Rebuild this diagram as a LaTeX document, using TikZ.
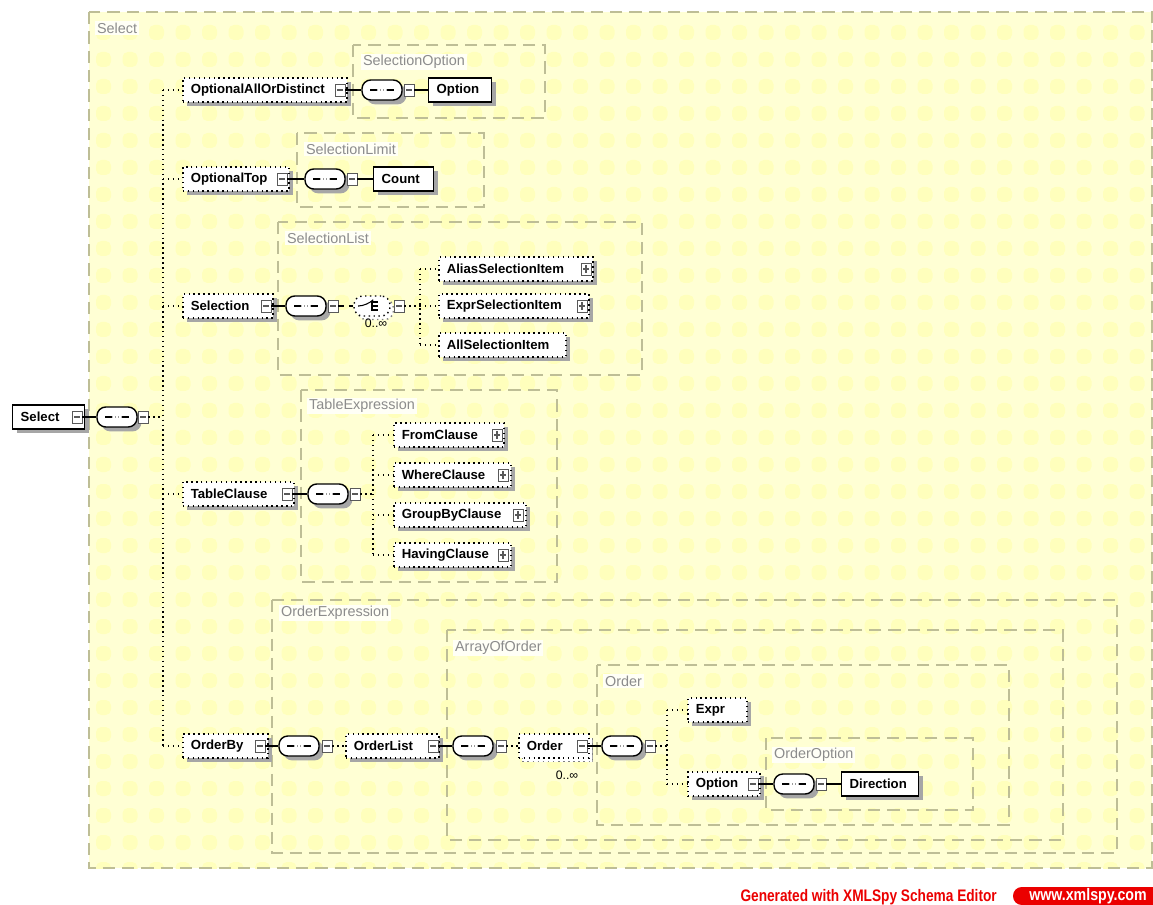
\documentclass[tikz,border=0pt]{standalone}
\usepackage{fontspec}
\setsansfont{Liberation Sans}
\usetikzlibrary{shadows}

\definecolor{paper}{RGB}{255,255,212}
\definecolor{spot}{RGB}{255,255,188}
\definecolor{frame}{RGB}{190,190,150}
\definecolor{grouptext}{RGB}{140,140,140}
\definecolor{spyred}{RGB}{235,0,0}

\newcommand{\elemfont}{\sffamily\bfseries\fontsize{7.5}{8}\selectfont}
\newcommand{\groupfont}{\sffamily\fontsize{8.2}{9}\selectfont}

\tikzset{
  dshadow/.style={drop shadow={shadow xshift=2.5pt, shadow yshift=-2.5pt, fill=black!35, opacity=1}},
  elem/.style={draw, line width=0.8pt, fill=white, anchor=west, font=\elemfont,
    minimum height=0.48cm, inner xsep=0.16cm, inner ysep=0pt, align=left, dshadow},
  optelem/.style={elem, dotted, line width=0.9pt},
  multi/.style={optelem, copy shadow={shadow xshift=2pt, shadow yshift=-2pt, fill=white, draw=black!50, dotted}},
  mbox/.style={draw=black!65, fill=white, line width=0.5pt, minimum width=0.2cm,
    minimum height=0.24cm, inner sep=0pt,
    path picture={\draw[line width=0.6pt] ([xshift=1.3pt]path picture bounding box.west)
      -- ([xshift=-1.3pt]path picture bounding box.east);}},
  pbox/.style={draw=black!65, fill=white, line width=0.5pt, minimum width=0.2cm,
    minimum height=0.24cm, inner sep=0pt,
    path picture={\draw[line width=0.6pt] ([xshift=1.3pt]path picture bounding box.west)
      -- ([xshift=-1.3pt]path picture bounding box.east);
      \draw[line width=0.6pt] ([yshift=-1.3pt]path picture bounding box.north)
      -- ([yshift=1.3pt]path picture bounding box.south);}},
  seq/.style={draw, line width=0.8pt, fill=white, rounded corners=5pt, minimum width=0.8cm,
    minimum height=0.4cm, inner sep=0pt, dshadow,
    path picture={\draw[line width=0.6pt] ([xshift=-0.24cm]path picture bounding box.center)
      -- ([xshift=0.24cm]path picture bounding box.center);
      \fill ([xshift=-0.065cm]path picture bounding box.center) circle (1.1pt);
      \fill (path picture bounding box.center) circle (1.1pt);
      \fill ([xshift=0.065cm]path picture bounding box.center) circle (1.1pt);}},
  choice/.style={draw, dotted, line width=0.8pt, fill=white, rounded corners=5pt,
    minimum width=0.72cm, minimum height=0.4cm, inner sep=0pt,
    copy shadow={shadow xshift=2pt, shadow yshift=-2pt, fill=white, draw=black!50, dotted},
    path picture={\draw[line width=0.6pt, solid] ([xshift=-0.26cm]path picture bounding box.center)
      -- ([xshift=-0.1cm]path picture bounding box.center)
      -- ([xshift=-0.02cm, yshift=0.08cm]path picture bounding box.center);
      \draw[line width=0.6pt, solid] ([xshift=0.0cm, yshift=0.1cm]path picture bounding box.center)
      -- ([xshift=0.0cm, yshift=-0.1cm]path picture bounding box.center);
      \draw[line width=0.6pt, solid] ([yshift=0.08cm]path picture bounding box.center) -- +(0.12cm,0)
      ([yshift=0cm]path picture bounding box.center) -- +(0.12cm,0)
      ([yshift=-0.08cm]path picture bounding box.center) -- +(0.12cm,0);}},
  link/.style={line width=0.6pt},
  branch/.style={dotted, line width=0.8pt},
  group/.style={draw=frame, dash pattern=on 7pt off 4pt, line width=0.8pt},
  grouplabel/.style={anchor=west, font=\groupfont, text=grouptext, fill=white!80!paper, inner sep=1pt},
  occ/.style={font=\sffamily\fontsize{7}{8}\selectfont, inner sep=0pt}
}

\begin{document}
\begin{tikzpicture}[x=0.02cm, y=-0.02cm]
\useasboundingbox (0,0) rectangle (1153,905);

% paper of the Select type
\fill[paper] (89,12) rectangle (1152,868);
\begin{scope}
\clip (89,12) rectangle (1152,868);
\foreach \i in {0,...,40}
  \foreach \j in {0,...,31}
    \fill[spot, rounded corners=3pt] (\i*26.5+96,\j*27+25) rectangle ++(15,15);
\end{scope}

% type boxes
\draw[group] (89,12) rectangle (1152,868);
\node[grouplabel] at (95,28) {Select};
\draw[group] (353,45) rectangle (545,118);
\node[grouplabel] at (361,62) {SelectionOption};
\draw[group] (297,133) rectangle (484,207);
\node[grouplabel] at (304,149) {SelectionLimit};
\draw[group] (278,222) rectangle (642,375);
\node[grouplabel] at (285,238) {SelectionList};
\draw[group] (301,390) rectangle (557,582);
\node[grouplabel] at (307,406) {TableExpression};
\draw[group] (272,600) rectangle (1117,853);
\node[grouplabel] at (279,613) {OrderExpression};
\draw[group] (447,630) rectangle (1063,840);
\node[grouplabel] at (453,648) {ArrayOfOrder};
\draw[group] (597,665) rectangle (1009,825);
\node[grouplabel] at (603,681) {Order};
\draw[group] (766,738) rectangle (973,810);
\node[grouplabel] at (772,755) {OrderOption};

% root
\node[elem, text width=1.12cm] (root) at (12,417) {Select};
\node[mbox] (rootm) at (77,417) {};
\node[seq] (rootseq) at (117,417) {};
\node[mbox] (rootseqm) at (143,417) {};
\draw[link] (rootm) -- (rootseq);

% children of the root sequence
\node[optelem, text width=2.96cm] (oad) at (182,90) {OptionalAllOrDistinct};
\node[mbox] (oadm) at (340,90) {};
\node[optelem, text width=1.80cm] (top) at (182,179) {OptionalTop};
\node[mbox] (topm) at (282,179) {};
\node[optelem, text width=1.48cm] (sel) at (182,306) {Selection};
\node[mbox] (selm) at (266,306) {};
\node[optelem, text width=1.90cm] (tbl) at (182,494) {TableClause};
\node[mbox] (tblm) at (287,494) {};
\node[optelem, text width=1.38cm] (ord) at (182,746) {OrderBy};
\node[mbox] (ordm) at (260,746) {};

\coordinate (rb) at (163,417);
\draw[branch] (rootseqm) -- (rb);
\draw[branch] (rb |- oad) -- (rb |- ord);
\foreach \n in {oad,top,sel,tbl,ord}
  \draw[branch] (rb |- \n) -- (\n.west);

% SelectionOption
\node[seq] (optseq) at (382,90) {};
\node[mbox] (optseqm) at (409,90) {};
\node[elem, text width=0.94cm] (option) at (428,90) {Option};
\draw[link] (oadm) -- (optseq);
\draw[link] (optseqm) -- (option);

% SelectionLimit
\node[seq] (limseq) at (325,179) {};
\node[mbox] (limseqm) at (352,179) {};
\node[elem, text width=0.88cm] (count) at (373,179) {Count};
\draw[link] (topm) -- (limseq);
\draw[link] (limseqm) -- (count);

% SelectionList
\node[seq] (sellseq) at (306,306) {};
\node[mbox] (sellseqm) at (333,306) {};
\node[choice] (selch) at (372,306) {};
\node[mbox] (selchm) at (399,306) {};
\node[occ] at (376,323) {0..∞};
\draw[link] (selm) -- (sellseq);
\draw[link, dashed] (sellseqm) -- (selch);

\node[optelem, text width=2.76cm] (alias) at (438,269) {AliasSelectionItem};
\node[pbox] at (586,269) {};
\node[optelem, text width=2.68cm] (expritem) at (438,306) {ExprSelectionItem};
\node[pbox] at (582,306) {};
\node[optelem, text width=2.22cm] (allitem) at (438,345) {AllSelectionItem};

\coordinate (sb) at (420,306);
\draw[branch] (selchm) -- (sb);
\draw[branch] (sb |- alias) -- (sb |- allitem);
\foreach \n in {alias,expritem,allitem}
  \draw[branch] (sb |- \n) -- (\n.west);

% TableExpression
\node[seq] (tblseq) at (328,494) {};
\node[mbox] (tblseqm) at (355,494) {};
\draw[link] (tblm) -- (tblseq);

\node[optelem, text width=1.88cm] (from) at (393,435) {FromClause};
\node[pbox] at (497,435) {};
\node[optelem, text width=2.02cm] (where) at (393,475) {WhereClause};
\node[pbox] at (503,475) {};
\node[optelem, text width=2.32cm] (groupby) at (393,515) {GroupByClause};
\node[pbox] at (518,515) {};
\node[optelem, text width=2.02cm] (having) at (393,555) {HavingClause};
\node[pbox] at (503,555) {};

\coordinate (tb) at (373,494);
\draw[branch] (tblseqm) -- (tb);
\draw[branch] (tb |- from) -- (tb |- having);
\foreach \n in {from,where,groupby,having}
  \draw[branch] (tb |- \n) -- (\n.west);

% OrderExpression, ArrayOfOrder, Order
\node[seq] (ordseq) at (299,746) {};
\node[mbox] (ordseqm) at (327,746) {};
\node[optelem, text width=1.54cm] (olist) at (345,746) {OrderList};
\node[mbox] (olistm) at (433,746) {};
\node[seq] (aoseq) at (473,746) {};
\node[mbox] (aoseqm) at (501,746) {};
\node[multi, text width=1.08cm] (order) at (518,746) {Order};
\node[mbox] (orderm) at (582,746) {};
\node[occ] at (567,775) {0..∞};
\node[seq] (oseq) at (622,746) {};
\node[mbox] (oseqm) at (650,746) {};
\draw[link] (ordm) -- (ordseq);
\draw[branch] (ordseqm) -- (olist);
\draw[link] (olistm) -- (aoseq);
\draw[branch] (aoseqm) -- (order);
\draw[link] (orderm) -- (oseq);

\node[optelem, text width=0.86cm] (expr) at (687,710) {Expr};
\node[optelem, text width=1.12cm] (oopt) at (687,784) {Option};
\node[mbox] (ooptm) at (753,784) {};

\coordinate (ob) at (667,746);
\draw[branch] (oseqm) -- (ob);
\draw[branch] (ob |- expr) -- (ob |- oopt);
\foreach \n in {expr,oopt}
  \draw[branch] (ob |- \n) -- (\n.west);

% OrderOption
\node[seq] (dirseq) at (794,784) {};
\node[mbox] (dirseqm) at (821,784) {};
\node[elem, text width=1.22cm] (dir) at (841,784) {Direction};
\draw[link] (ooptm) -- (dirseq);
\draw[link] (dirseqm) -- (dir);

% footer
\node[anchor=east, text=spyred, font=\sffamily\bfseries\fontsize{9.5}{10}\selectfont] (gen)
  at (1003,897) {\scalebox{0.82}[1]{Generated with XMLSpy Schema Editor}};
\node[fill=spyred, text=white, rounded corners=5pt, minimum width=3.0cm, minimum height=0.36cm,
  inner sep=0pt, font=\sffamily\bfseries\fontsize{9.5}{10}\selectfont] (url)
  at (1088,896) {\scalebox{0.85}[1]{www.xmlspy.com}\hspace{0.4cm}};
\end{tikzpicture}
\end{document}
